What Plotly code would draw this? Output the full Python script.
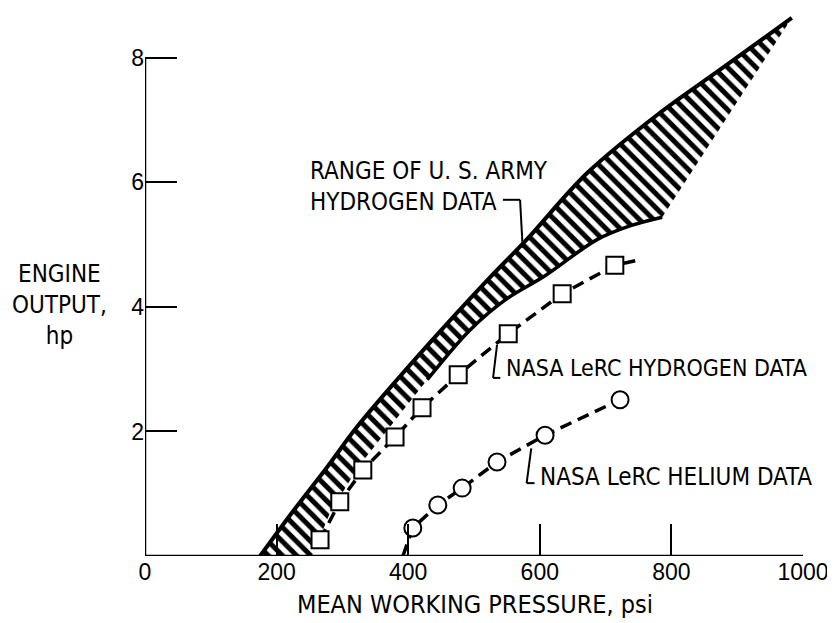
import plotly.graph_objects as go

# range of U.S. Army hydrogen data (upper / lower edge of hatched band)
army_upper_x = [175, 223, 277, 322, 383, 453, 524, 580, 672, 783, 874, 983]
army_upper_y = [0.0, 0.69, 1.43, 2.07, 2.83, 3.66, 4.47, 5.08, 6.15, 7.12, 7.81, 8.64]
army_lower_x = [254, 281, 324, 372, 429, 494, 547, 608, 687, 737, 786]
army_lower_y = [0.0, 0.69, 1.43, 2.07, 2.83, 3.63, 4.11, 4.50, 5.08, 5.30, 5.44]

# NASA LeRC hydrogen data
h2_x = [266, 296, 331, 380, 421, 476, 552, 634, 714]
h2_y = [0.26, 0.87, 1.38, 1.91, 2.38, 2.91, 3.57, 4.21, 4.67]
h2_end = (745, 4.74)

# NASA LeRC helium data
he_x = [407, 445, 482, 535, 608, 722]
he_y = [0.45, 0.82, 1.09, 1.51, 1.94, 2.51]
he_start = (392, 0.0)

x_ticks = [0, 200, 400, 600, 800, 1000]
y_ticks = [2, 4, 6, 8]

FONT = "DejaVu Sans Condensed, DejaVu Sans, sans-serif"
NUMFONT = "Liberation Sans, Arial, sans-serif"

fig = go.Figure()

band_x = army_upper_x + army_lower_x[::-1]
band_y = army_upper_y + army_lower_y[::-1]
fig.add_trace(go.Scatter(x=band_x, y=band_y, mode="lines", fill="toself",
                         fillcolor="white", line=dict(width=0),
                         fillpattern=dict(shape="\\", fgcolor="black", bgcolor="white",
                                          fgopacity=1, size=10, solidity=0.5),
                         showlegend=False, hoverinfo="skip"))
fig.add_trace(go.Scatter(x=army_upper_x, y=army_upper_y, mode="lines",
                         line=dict(color="black", width=4, shape="spline"), showlegend=False))
# the solid lower boundary is only drawn along the upper part of the band
fig.add_trace(go.Scatter(x=army_lower_x[4:], y=army_lower_y[4:], mode="lines",
                         line=dict(color="black", width=3.5, shape="spline"), showlegend=False))

fig.add_trace(go.Scatter(x=h2_x + [h2_end[0]], y=h2_y + [h2_end[1]], mode="lines",
                         line=dict(color="black", width=3.5, dash="12px,7px"), showlegend=False))
fig.add_trace(go.Scatter(x=h2_x, y=h2_y, mode="markers",
                         marker=dict(symbol="square", size=17, color="white",
                                     line=dict(color="black", width=2)),
                         showlegend=False))

fig.add_trace(go.Scatter(x=[he_start[0]] + he_x, y=[he_start[1]] + he_y, mode="lines",
                         line=dict(color="black", width=3.5, dash="12px,7px"), showlegend=False))
fig.add_trace(go.Scatter(x=he_x, y=he_y, mode="markers",
                         marker=dict(symbol="circle", size=17, color="white",
                                     line=dict(color="black", width=2)),
                         showlegend=False))

# axis lines (y axis only up to 8)
fig.add_shape(type="line", x0=0, x1=0, y0=0, y1=8, line=dict(color="black", width=2.5))
fig.add_shape(type="line", x0=0, x1=1000, y0=0, y1=0, line=dict(color="black", width=2.5))

# leader lines for the labels
lead = dict(color="black", width=2)
fig.add_shape(type="line", x0=544, x1=570, y0=5.72, y1=5.72, line=lead)
fig.add_shape(type="line", x0=570, x1=574, y0=5.72, y1=4.95, line=lead)
fig.add_shape(type="line", x0=535, x1=529, y0=3.39, y1=2.86, line=lead)
fig.add_shape(type="line", x0=529, x1=540, y0=2.86, y1=2.86, line=lead)
fig.add_shape(type="line", x0=587, x1=580, y0=1.73, y1=1.17, line=lead)
fig.add_shape(type="line", x0=580, x1=592, y0=1.17, y1=1.17, line=lead)

txt = dict(family=FONT, size=24, color="black")
fig.add_annotation(x=248, y=5.93, text="RANGE OF U. S. ARMY<br>HYDROGEN DATA",
                   showarrow=False, xanchor="left", yanchor="middle", align="left", font=txt)
fig.add_annotation(x=545, y=3.02, text="NASA LeRC HYDROGEN DATA",
                   showarrow=False, xanchor="left", yanchor="middle",
                   font=dict(family=FONT, size=23, color="black"))
fig.add_annotation(x=597, y=1.27, text="NASA LeRC HELIUM DATA",
                   showarrow=False, xanchor="left", yanchor="middle", font=txt)
fig.add_annotation(xref="paper", yref="paper", x=-0.13, y=0.458,
                   text="ENGINE<br>OUTPUT,<br>hp",
                   showarrow=False, xanchor="center", yanchor="middle", align="center", font=txt)
fig.add_annotation(xref="x", yref="paper", x=501, y=-0.089,
                   text="MEAN WORKING PRESSURE, psi",
                   showarrow=False, xanchor="center", yanchor="middle",
                   font=dict(family=FONT, size=25, color="black"))

numfont = dict(family=NUMFONT, size=23, color="black")
fig.update_xaxes(range=[0, 1000], tickvals=x_ticks, ticks="inside", ticklen=32, tickwidth=2,
                 tickcolor="black", showgrid=False, zeroline=False, showline=False,
                 tickfont=numfont)
fig.update_yaxes(range=[0, 8.8], tickvals=y_ticks, ticks="inside", ticklen=32, tickwidth=2,
                 tickcolor="black", showgrid=False, zeroline=False, showline=False,
                 tickfont=numfont)

# page body adds an 8px offset, so the figure is sized 8px smaller
fig.update_layout(width=827, height=615, autosize=False,
                  margin=dict(l=137, r=32, t=0, b=67),
                  plot_bgcolor="white", paper_bgcolor="white")

fig.write_html("out.html")
